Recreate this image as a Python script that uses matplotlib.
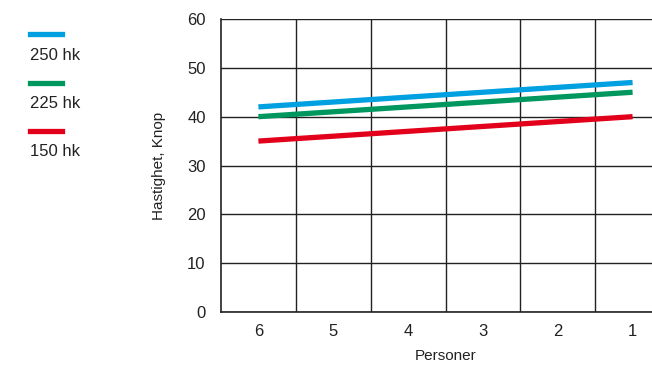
import matplotlib
matplotlib.use("Agg")
import matplotlib.pyplot as plt
from matplotlib.lines import Line2D

# Data
personer = ["6", "5", "4", "3", "2", "1"]
hk250 = [42, 43, 44, 45, 46, 47]
hk225 = [40, 41, 42, 43, 44, 45]
hk150 = [35, 36, 37, 38, 39, 40]
series_labels = ["250 hk", "225 hk", "150 hk"]
series_colors = ["#00a0e1", "#00975f", "#e2001a"]
y_ticks = [0, 10, 20, 30, 40, 50, 60]

plt.rcParams["font.family"] = ["Liberation Sans Narrow", "Liberation Sans", "DejaVu Sans"]

fig = plt.figure(figsize=(6.52, 3.69), dpi=100)
# axes extends a little past the right edge, like the cropped original
ax = fig.add_axes([221 / 652, 1 - 312 / 369, (670 - 221) / 652, (312 - 19) / 369])

x = list(range(len(personer)))
for vals, col in zip([hk250, hk225, hk150], series_colors):
    ax.plot(x, vals, color=col, lw=3.8, solid_capstyle="butt", zorder=3)

ax.set_xlim(-0.5, len(personer) - 0.5)
ax.set_ylim(0, 60)
ax.set_yticks(y_ticks)
ax.set_xticks(x)
ax.set_xticklabels(personer)
ax.set_xticks([i + 0.5 for i in x[:-1]], minor=True)
ax.grid(False)
ax.yaxis.grid(True, color="#222222", lw=1)
ax.xaxis.grid(True, which="minor", color="#222222", lw=1)
ax.tick_params(length=0, labelsize=12, colors="#222222")
ax.tick_params(axis="y", pad=11)
ax.tick_params(axis="x", pad=9)
ax.tick_params(which="minor", length=0)
for side in ["top", "right"]:
    ax.spines[side].set_visible(False)
for side in ["left", "bottom"]:
    ax.spines[side].set_color("#222222")
    ax.spines[side].set_linewidth(1.2)

ax.set_xlabel("Personer", fontsize=11, color="#222222", labelpad=7)
ax.set_ylabel("Hastighet, Knop", fontsize=11, color="#222222", labelpad=15)

# legend on the left: swatch above text
W, H = 652, 369
for i, (lab, col) in enumerate(zip(series_labels, series_colors)):
    ly = 34 + i * 48.5
    fig.add_artist(Line2D([30 / W, 62 / W], [1 - ly / H, 1 - ly / H],
                          color=col, lw=3.8, transform=fig.transFigure))
    fig.text(30 / W, 1 - (ly + 21) / H, lab, fontsize=12, color="#222222",
             ha="left", va="center")

fig.savefig("out.png", dpi=100)
